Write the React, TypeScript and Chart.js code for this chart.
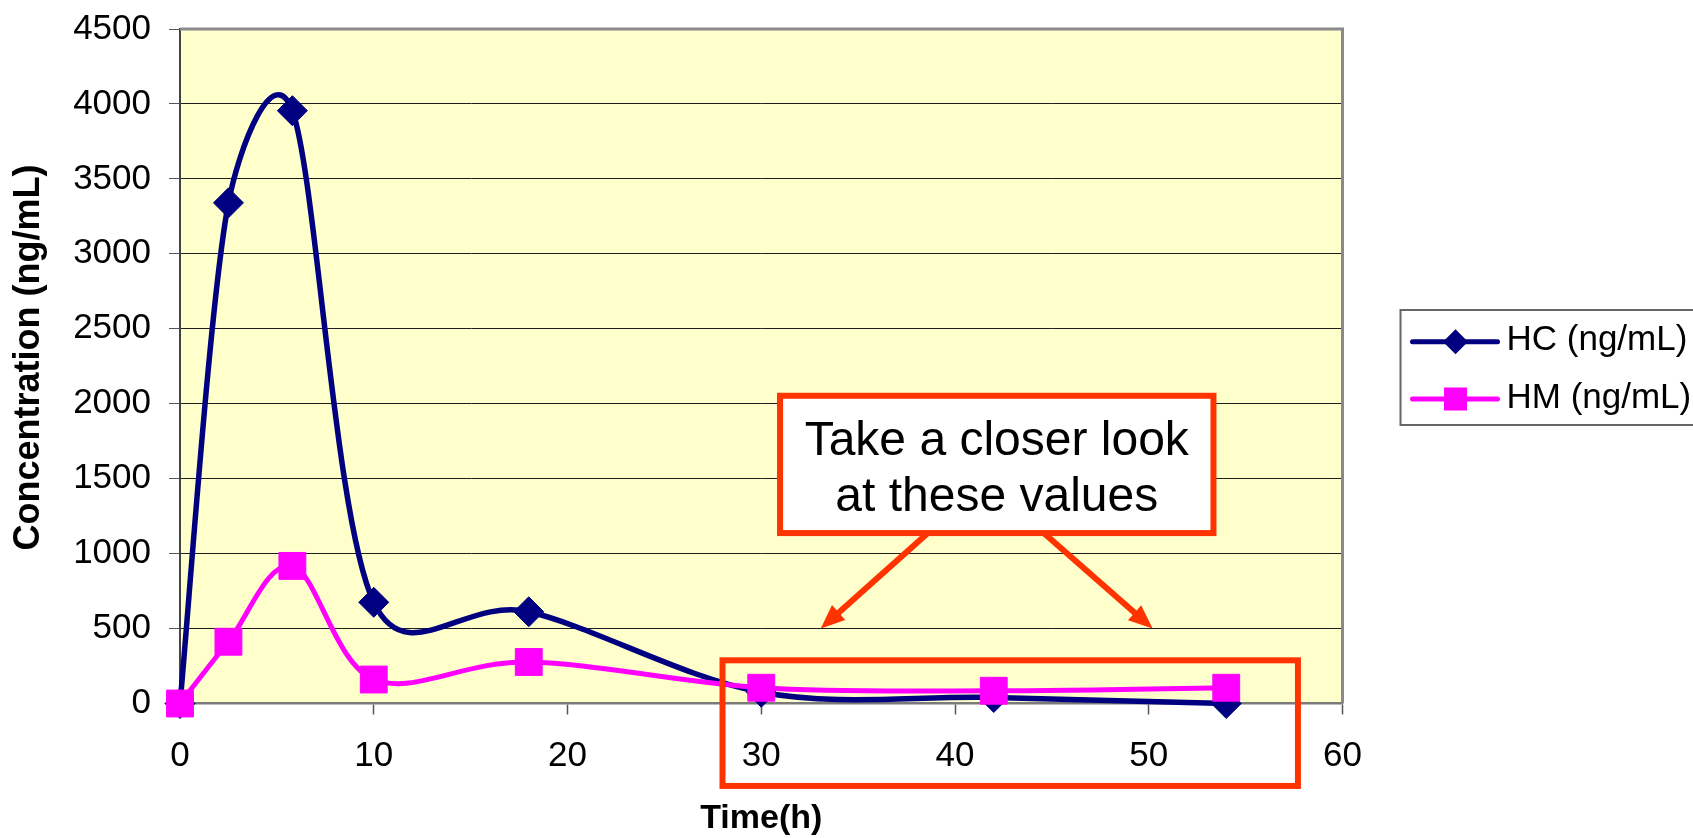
import React, { useEffect, useRef } from "react";
import { Chart, registerables } from "chart.js";

Chart.register(...registerables);

// Sampling times (hours) shared by both series
const timeHours = [0, 2.5, 5.8, 10, 18, 30, 42, 54];
// Hydrocodone plasma concentration (ng/mL)
const hcValues = [0, 3340, 3955, 675, 612, 75, 40, 0];
// Hydromorphone plasma concentration (ng/mL)
const hmValues = [0, 412, 918, 160, 277, 105, 85, 105];

const seriesLabels = ["HC (ng/mL)", "HM (ng/mL)"];
const xAxisTitle = "Time(h)";
const yAxisTitle = "Concentration (ng/mL)";
const xRange = { min: 0, max: 60, step: 10 };
const yRange = { min: 0, max: 4500, step: 500 };
const calloutLines = ["Take a closer look", "at these values"];

const FONT = "'Liberation Sans', Arial, Helvetica, sans-serif";
const NAVY = "#000080";
const MAGENTA = "#ff00ff";
const RED = "#ff3300";
const PLOT_BG = "#ffffcc";

// Annotation geometry, expressed in axis units
const callout = { x0: 30.97, x1: 53.34, yTop: 2053, yBottom: 1137 };
const calloutArrows = [
  { fromX: 38.6, toX: 33.07, toY: 500 },
  { fromX: 44.58, toX: 50.2, toY: 500 },
];
const highlight = { x0: 28.0, x1: 57.7, yTop: 288, yBottom: -550 };

function drawArrow(ctx: CanvasRenderingContext2D, x0: number, y0: number, x1: number, y1: number) {
  const ang = Math.atan2(y1 - y0, x1 - x0);
  const headLen = 24;
  const headHalf = 10;
  const c = Math.cos(ang);
  const s = Math.sin(ang);
  const bx = x1 - headLen * c;
  const by = y1 - headLen * s;
  ctx.beginPath();
  ctx.moveTo(x0, y0);
  ctx.lineTo(bx + c * 2, by + s * 2);
  ctx.stroke();
  ctx.beginPath();
  ctx.moveTo(x1, y1);
  ctx.lineTo(bx + headHalf * s, by - headHalf * c);
  ctx.lineTo(bx - headHalf * s, by + headHalf * c);
  ctx.closePath();
  ctx.fill();
}

// Spreadsheet-style smoothing: Catmull-Rom tangents (1/6 of the neighbour
// chord), each handle limited to half of its adjacent segment.
const smoothLinesPlugin = {
  id: "smoothLines",
  beforeDatasetsDraw(chart: any) {
    for (const meta of chart.getSortedVisibleDatasetMetas()) {
      const line = meta.dataset;
      if (!line) continue;
      line.updateControlPoints(chart.chartArea, meta.iScale ? meta.iScale.axis : "x");
      const pts = meta.data;
      const n = pts.length;
      for (let i = 0; i < n; i++) {
        const p = pts[i];
        const prev = pts[Math.max(0, i - 1)];
        const next = pts[Math.min(n - 1, i + 1)];
        const dx = next.x - prev.x;
        const dy = next.y - prev.y;
        const chord = Math.hypot(dx, dy) || 1;
        const dPrev = Math.hypot(p.x - prev.x, p.y - prev.y);
        const dNext = Math.hypot(next.x - p.x, next.y - p.y);
        const base = chord / 6;
        const inLen = i === 0 ? 0 : Math.min(base, dPrev / 2);
        const outLen = i === n - 1 ? 0 : Math.min(base, dNext / 2);
        const ux = dx / chord;
        const uy = dy / chord;
        p.cp1x = p.x - ux * inLen;
        p.cp1y = p.y - uy * inLen;
        p.cp2x = p.x + ux * outLen;
        p.cp2y = p.y + uy * outLen;
      }
      line._path = undefined;
    }
  },
};

const decorPlugin = {
  id: "decor",
  beforeDraw(chart: any) {
    const { ctx, chartArea: a } = chart;
    ctx.save();
    ctx.fillStyle = "#ffffff";
    ctx.fillRect(0, 0, chart.width, chart.height);
    ctx.fillStyle = PLOT_BG;
    ctx.fillRect(a.left, a.top, a.right - a.left, a.bottom - a.top);
    ctx.restore();
  },
  beforeDatasetsDraw(chart: any) {
    const { ctx, chartArea: a } = chart;
    ctx.save();
    // top and right frame of the plot area
    ctx.strokeStyle = "#8a8a8a";
    ctx.lineWidth = 3;
    ctx.beginPath();
    ctx.moveTo(a.left, a.top);
    ctx.lineTo(a.right, a.top);
    ctx.lineTo(a.right, a.bottom);
    ctx.stroke();

    // vertical axis title
    ctx.translate(29, 357.5);
    ctx.rotate(-Math.PI / 2);
    ctx.fillStyle = "#000000";
    ctx.font = `bold 36px ${FONT}`;
    ctx.textAlign = "center";
    ctx.textBaseline = "middle";
    ctx.fillText(yAxisTitle, 0, 0);
    ctx.restore();
  },
  afterDatasetsDraw(chart: any) {
    const { ctx } = chart;
    const xs = chart.scales.x;
    const ys = chart.scales.y;
    ctx.save();

    // highlight frame around the late time points
    const hx0 = xs.getPixelForValue(highlight.x0);
    const hx1 = xs.getPixelForValue(highlight.x1);
    const hy0 = ys.getPixelForValue(highlight.yTop);
    const hy1 = ys.getPixelForValue(highlight.yBottom);
    ctx.strokeStyle = RED;
    ctx.lineWidth = 6;
    ctx.strokeRect(hx0, hy0, hx1 - hx0, hy1 - hy0);

    // callout box with text
    const cx0 = xs.getPixelForValue(callout.x0);
    const cx1 = xs.getPixelForValue(callout.x1);
    const cy0 = ys.getPixelForValue(callout.yTop);
    const cy1 = ys.getPixelForValue(callout.yBottom);
    ctx.fillStyle = "#ffffff";
    ctx.fillRect(cx0, cy0, cx1 - cx0, cy1 - cy0);
    ctx.strokeRect(cx0, cy0, cx1 - cx0, cy1 - cy0);

    ctx.fillStyle = "#000000";
    ctx.font = `48px ${FONT}`;
    ctx.textAlign = "center";
    ctx.textBaseline = "alphabetic";
    const midX = (cx0 + cx1) / 2;
    const midY = (cy0 + cy1) / 2;
    ctx.fillText(calloutLines[0], midX, midY - 9.5);
    ctx.fillText(calloutLines[1], midX, midY + 46.5);

    // arrows from the callout to the highlighted values
    ctx.strokeStyle = RED;
    ctx.fillStyle = RED;
    ctx.lineWidth = 6;
    ctx.lineCap = "butt";
    for (const ar of calloutArrows) {
      drawArrow(
        ctx,
        xs.getPixelForValue(ar.fromX),
        cy1,
        xs.getPixelForValue(ar.toX),
        ys.getPixelForValue(ar.toY)
      );
    }
    ctx.restore();
  },
  afterDraw(chart: any) {
    const { ctx, chartArea: a } = chart;
    const left = a.right + 58;
    const top = 310;
    const height = 115;
    ctx.save();
    ctx.fillStyle = "#ffffff";
    ctx.fillRect(left, top, 400, height);
    ctx.strokeStyle = "#666666";
    ctx.lineWidth = 2;
    ctx.strokeRect(left, top, 400, height);

    const rows = [
      { label: seriesLabels[0], color: NAVY, style: "diamond", y: top + 31.7, base: top + 40 },
      { label: seriesLabels[1], color: MAGENTA, style: "square", y: top + 89, base: top + 98.3 },
    ];
    for (const r of rows) {
      const lx0 = left + 12;
      const lx1 = left + 97;
      const mx = left + 55;
      ctx.strokeStyle = r.color;
      ctx.fillStyle = r.color;
      ctx.lineWidth = 5;
      ctx.lineCap = "round";
      ctx.beginPath();
      ctx.moveTo(lx0, r.y);
      ctx.lineTo(lx1, r.y);
      ctx.stroke();
      ctx.beginPath();
      if (r.style === "diamond") {
        const h = 12.5;
        ctx.moveTo(mx - h, r.y);
        ctx.lineTo(mx, r.y - h);
        ctx.lineTo(mx + h, r.y);
        ctx.lineTo(mx, r.y + h);
        ctx.closePath();
      } else {
        const h = 11.5;
        ctx.rect(mx - h, r.y - h, 2 * h, 2 * h);
      }
      ctx.fill();
      ctx.fillStyle = "#000000";
      ctx.font = `35px ${FONT}`;
      ctx.textAlign = "left";
      ctx.textBaseline = "alphabetic";
      ctx.fillText(r.label, left + 106, r.base);
    }
    ctx.restore();
  },
};

export default function App() {
  const canvasRef = useRef<HTMLCanvasElement | null>(null);

  useEffect(() => {
    const canvas = canvasRef.current;
    if (!canvas) return;

    const chart = new Chart(canvas, {
      type: "line",
      data: {
        datasets: [
          {
            label: seriesLabels[0],
            data: timeHours.map((t, i) => ({ x: t, y: hcValues[i] })),
            borderColor: NAVY,
            backgroundColor: NAVY,
            borderWidth: 5.5,
            pointStyle: "rectRot",
            pointRadius: 15,
            pointBorderWidth: 1,
            pointBackgroundColor: NAVY,
            pointBorderColor: NAVY,
            tension: 0.4,
            order: 1,
            clip: false,
          },
          {
            label: seriesLabels[1],
            data: timeHours.map((t, i) => ({ x: t, y: hmValues[i] })),
            borderColor: MAGENTA,
            backgroundColor: MAGENTA,
            borderWidth: 5,
            pointStyle: "rect",
            pointRadius: 19,
            pointBorderWidth: 1,
            pointBackgroundColor: MAGENTA,
            pointBorderColor: MAGENTA,
            tension: 0.4,
            order: 0,
            clip: false,
          },
        ],
      },
      options: {
        responsive: false,
        animation: false,
        events: [],
        layout: { padding: { left: 0, top: 29, right: 350.5, bottom: 0 } },
        plugins: {
          legend: { display: false },
          tooltip: { enabled: false },
          title: { display: false },
        },
        scales: {
          x: {
            type: "linear",
            min: xRange.min,
            max: xRange.max,
            afterFit: (scale: any) => {
              scale.height = 134.5;
              scale.paddingLeft = 0;
              scale.paddingRight = 0;
            },
            ticks: {
              stepSize: xRange.step,
              color: "#000000",
              padding: 21,
              font: { family: FONT, size: 35 },
              callback: (v: any) => String(v),
            },
            grid: {
              drawOnChartArea: false,
              drawTicks: true,
              tickLength: 11,
              tickColor: "#555555",
              tickWidth: 1.5,
            },
            border: { display: true, color: "#7a7a7a", width: 2.5 },
            title: {
              display: true,
              text: xAxisTitle,
              color: "#000000",
              font: { family: FONT, size: 34, weight: "bold", lineHeight: 1 },
              padding: { top: 0, bottom: 2 },
            },
          },
          y: {
            type: "linear",
            min: yRange.min,
            max: yRange.max,
            afterFit: (scale: any) => {
              scale.width = 180;
              scale.paddingTop = 0;
              scale.paddingBottom = 0;
            },
            ticks: {
              stepSize: yRange.step,
              color: "#000000",
              padding: 18,
              font: { family: FONT, size: 35 },
              callback: (v: any) => String(v),
            },
            grid: {
              drawOnChartArea: true,
              color: "#1e1e1e",
              lineWidth: 1,
              tickLength: 11,
              tickColor: "#555555",
            },
            border: { display: true, color: "#444444", width: 2 },
            title: { display: false },
          },
        },
      },
      plugins: [decorPlugin, smoothLinesPlugin],
    });

    return () => chart.destroy();
  }, []);

  return (
    <div style={{ position: "absolute", left: 0, top: 0, width: 1693, height: 838, background: "#ffffff" }}>
      <canvas ref={canvasRef} width={1693} height={838} style={{ display: "block" }} />
    </div>
  );
}
